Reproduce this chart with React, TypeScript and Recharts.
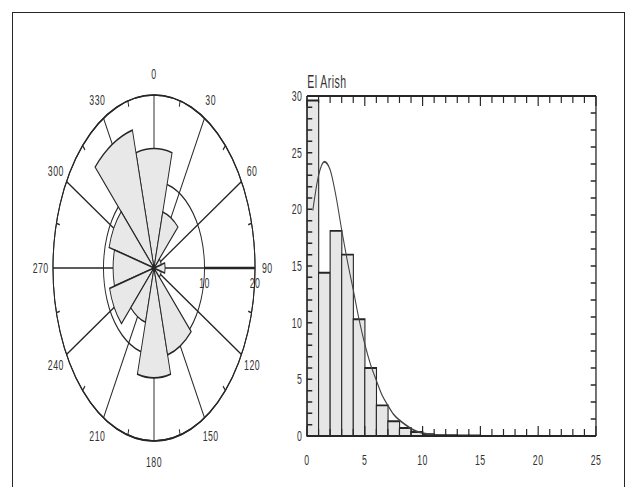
import React from "react";
import {
  ComposedChart,
  Bar,
  Line,
  XAxis,
  YAxis,
  RadialBarChart,
  RadialBar,
  PolarAngleAxis,
  PolarRadiusAxis,
  PolarGrid,
} from "recharts";

// wind rose: direction sectors (deg) and frequency
const directions = ["0", "30", "60", "90", "120", "150", "180", "210", "240", "270", "300", "330"];
const roseValues = [13.8, 6.7, 1.5, 2.2, 1.5, 10.4, 12.7, 6.5, 9.1, 8.1, 9.2, 16.5];
const roseRings = [10, 20];
const roseMax = 20;

// histogram of wind speed
const binCenters = [0.5, 1.5, 2.5, 3.5, 4.5, 5.5, 6.5, 7.5, 8.5, 9.5, 10.5, 11.5, 12.5, 13.5, 14.5];
const binCounts = [29.6, 14.4, 18.1, 16.0, 10.3, 6.0, 2.7, 1.3, 0.7, 0.35, 0.15, 0.08, 0.06, 0.05, 0.04];

// fitted distribution curve
const curveX = [0.5, 1, 1.5, 2, 2.5, 3, 3.5, 4, 4.5, 5, 5.5, 6, 6.5, 7, 7.5, 8, 8.5, 9, 9.5, 10, 11, 12];
const curveY = [19.9, 23.0, 24.2, 23.5, 21.2, 18.2, 15.4, 12.9, 10.3, 8.1, 6.3, 4.9, 3.6, 2.7, 1.9, 1.4, 1.0, 0.65, 0.4, 0.25, 0.1, 0.03];

const xMinor = Array.from({ length: 26 }, (_, i) => i); // labelled every 5
const yMinor = Array.from({ length: 31 }, (_, i) => i); // labelled every 5
const yRight = Array.from({ length: 21 }, (_, i) => i * 1.5);

// sectors run counter-clockwise in recharts, so list them N, NNW, ... back round
const roseAll = directions.map((dir, i) => ({ dir, value: roseValues[i] }));
const roseData = [roseAll[0], ...roseAll.slice(1).reverse()];
const histData = binCenters.map((x, i) => ({ x, count: binCounts[i] }));
const curveData = curveX.map((x, i) => ({ x, y: curveY[i] }));

// the source figure is squeezed horizontally
const SQUEEZE = 0.584;
const INK = "#262626";
const TEXT = "#333";
const FONT = "'Liberation Sans', Arial, sans-serif";
const LABEL = { fill: TEXT, fontSize: 15, fontFamily: FONT, letterSpacing: 0.8 };

const CX = 263.7;
const CY = 268;
const OUTER = 173;
const HALF_BAND = 180 / directions.length;
const LABEL_GAP = 21;

const AngleTick = (props: any) => {
  const { payload } = props;
  const a = ((payload.coordinate + HALF_BAND) * Math.PI) / 180;
  const r = OUTER + LABEL_GAP;
  return (
    <text x={CX + r * Math.cos(a)} y={CY - r * Math.sin(a)} textAnchor="middle" dominantBaseline="central" {...LABEL}>
      {payload.value}
    </text>
  );
};

const RadiusTick = (props: any) => {
  const { x, y, payload } = props;
  return (
    <text x={x} y={y + 15} textAnchor="middle" dominantBaseline="central" {...LABEL}>
      {payload.value}
    </text>
  );
};

const isMajor = (v: number) => v % 5 === 0;

const BottomTick = ({ x, y, payload }: any) => (
  <g>
    <line x1={x} x2={x} y1={y} y2={y - (isMajor(payload.value) ? 10 : 7)} stroke={INK} strokeWidth={2} />
    {isMajor(payload.value) && (
      <text x={x} y={y + 24} textAnchor="middle" dominantBaseline="central" {...LABEL}>
        {payload.value}
      </text>
    )}
  </g>
);

const TopTick = ({ x, y, payload }: any) => (
  <line x1={x} x2={x} y1={y} y2={y + (isMajor(payload.value) ? 10 : 7)} stroke={INK} strokeWidth={2} />
);

const LeftTick = ({ x, y, payload }: any) => (
  <g>
    <line x1={x} x2={x + 9} y1={y} y2={y} stroke={INK} strokeWidth={1.5} />
    {isMajor(payload.value) && (
      <text x={x - 8} y={y} textAnchor="end" dominantBaseline="central" {...LABEL}>
        {payload.value}
      </text>
    )}
  </g>
);

const RightTick = ({ x, y }: any) => <line x1={x} x2={x - 9} y1={y} y2={y} stroke={INK} strokeWidth={1.5} />;

export default function App() {
  return (
    <div style={{ position: "absolute", left: 0, top: 0, width: 628, height: 487, overflow: "hidden", background: "#fff" }}>
      <div
        style={{
          position: "absolute",
          left: 12,
          top: 12,
          width: 613,
          height: 480,
          border: `1.5px solid ${INK}`,
          borderBottom: "none",
          boxSizing: "border-box",
        }}
      />
      <div
        style={{
          position: "absolute",
          left: 0,
          top: 0,
          width: 1075,
          height: 487,
          transform: `scaleX(${SQUEEZE})`,
          transformOrigin: "0 0",
          fontFamily: FONT,
        }}
      >
        <div style={{ position: "absolute", left: 0, top: 0 }}>
          <RadialBarChart
            width={480}
            height={487}
            cx={CX}
            cy={CY}
            innerRadius={0}
            outerRadius={OUTER}
            startAngle={90 + HALF_BAND}
            endAngle={450 + HALF_BAND}
            data={roseData}
            layout="centric"
            barCategoryGap={0}
            barGap={0}
          >
            <PolarGrid
              gridType="circle"
              stroke={INK}
              strokeWidth={1.6}
              polarAngles={directions.map((d) => 90 - Number(d))}
              polarRadius={roseRings.map((r) => (r / roseMax) * OUTER)}
            />
            <PolarAngleAxis
              dataKey="dir"
              type="category"
              orientation="inner"
              tickSize={6}
              tickLine={{ stroke: INK, strokeWidth: 1.6 }}
              tick={<AngleTick />}
              axisLine={{ stroke: INK, strokeWidth: 1.7 }}
              axisLineType="circle"
            />
            <RadialBar
              dataKey="value"
              fill="#e8e8e8"
              stroke={INK}
              strokeWidth={1.6}
              isAnimationActive={false}
            />
            <PolarRadiusAxis
              type="number"
              domain={[0, roseMax]}
              ticks={roseRings}
              angle={0}
              orientation="middle"
              tickLine={false}
              axisLine={{ stroke: INK, strokeWidth: 2.4 }}
              tick={<RadiusTick />}
            />
          </RadialBarChart>
        </div>

        <div
          style={{
            position: "absolute",
            left: 526,
            top: 72,
            fontSize: 18,
            letterSpacing: 0.8,
            color: TEXT,
            whiteSpace: "nowrap",
          }}
        >
          El Arish
        </div>

        <div style={{ position: "absolute", left: 460, top: 0 }}>
          <ComposedChart
            width={600}
            height={487}
            data={histData}
            margin={{ top: 95, right: 38.5, bottom: 21, left: 15.7 }}
            barCategoryGap={0}
            barGap={0}
          >
            <XAxis
              xAxisId="bins"
              type="number"
              dataKey="x"
              domain={[0, 25]}
              ticks={xMinor}
              interval={0}
              tickLine={false}
              axisLine={{ stroke: INK, strokeWidth: 1.8 }}
              tickSize={0}
              tickMargin={0}
              height={30}
              tick={<BottomTick />}
            />
            <XAxis
              xAxisId="curve"
              orientation="top"
              type="number"
              dataKey="x"
              domain={[0, 25]}
              allowDataOverflow
              ticks={xMinor}
              interval={0}
              tickLine={false}
              axisLine={{ stroke: INK, strokeWidth: 1.8 }}
              tickSize={0}
              tickMargin={0}
              height={1}
              tick={<TopTick />}
            />
            <YAxis
              yAxisId="y"
              type="number"
              domain={[0, 30]}
              ticks={yMinor}
              interval={0}
              tickLine={false}
              axisLine={{ stroke: INK, strokeWidth: 2.2 }}
              tickSize={0}
              tickMargin={0}
              width={50}
              tick={<LeftTick />}
            />
            <YAxis
              yAxisId="r"
              orientation="right"
              type="number"
              domain={[0, 30]}
              allowDataOverflow
              ticks={yRight}
              interval={0}
              tickLine={false}
              axisLine={{ stroke: INK, strokeWidth: 2.2 }}
              tickSize={0}
              tickMargin={0}
              width={1}
              tick={<RightTick />}
            />
            <Bar
              xAxisId="bins"
              yAxisId="y"
              dataKey="count"
              fill="#e6e6e6"
              stroke={INK}
              strokeWidth={1.9}
              isAnimationActive={false}
            />
            <Line
              data={curveData}
              xAxisId="curve"
              yAxisId="r"
              dataKey="y"
              type="monotone"
              stroke="#444"
              strokeWidth={1.8}
              dot={false}
              isAnimationActive={false}
            />
          </ComposedChart>
        </div>
      </div>
    </div>
  );
}
